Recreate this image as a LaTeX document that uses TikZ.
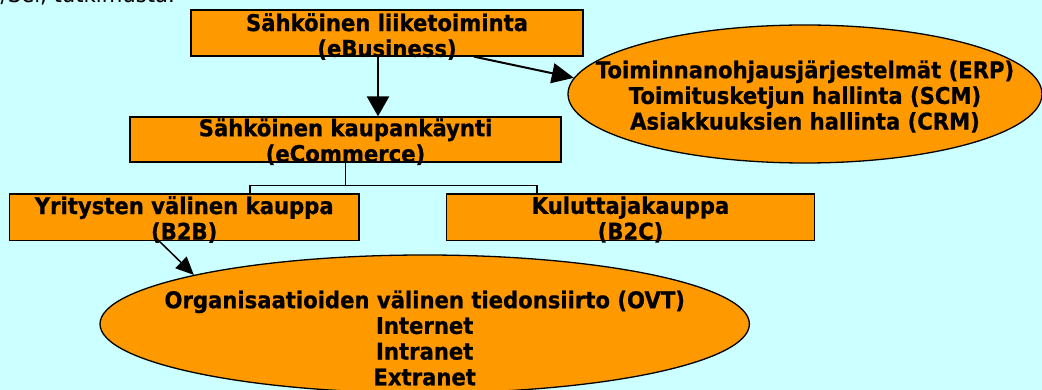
\documentclass[tikz,border=0pt]{standalone}
\usepackage{fontspec}
\setmainfont{DejaVu Sans}
\newfontfamily\diafont{DejaVu Sans}[FakeStretch=0.92]
\newfontfamily\diabold{DejaVu Sans Bold}[FakeStretch=0.92,FakeBold=0.8]
\usetikzlibrary{arrows.meta,shapes.geometric}
\definecolor{bg}{HTML}{CCFFFF}
\definecolor{org}{HTML}{FF9900}
\begin{document}
\begin{tikzpicture}[x=1pt,y=-1pt,
  box/.style={draw=black, line width=1.3pt, fill=org, rectangle, inner sep=0pt},
  oval/.style={draw=black, line width=1.3pt, fill=org, ellipse, inner sep=0pt},
  txt/.style={font=\fontsize{23}{25.7}\selectfont\diabold, align=center, inner sep=0pt},
  conn/.style={draw=black, line width=1.3pt},
  bigarrow/.style={draw=black, line width=2.5pt, -{Triangle[length=20pt,width=22pt]}},
  midarrow/.style={draw=black, line width=2pt, -{Triangle[length=22pt,width=20pt]}},
  smallarrow/.style={draw=black, line width=1.5pt, -{Triangle[length=18pt,width=16pt]}}]
\useasboundingbox (0,0) rectangle (1042,390);
\clip (0,0) rectangle (1042,390);
\fill[bg] (0,0) rectangle (1042,390);

\node[font=\fontsize{23}{25}\selectfont\diafont, anchor=base east, inner sep=0pt] (src) at (175,3) {y/Sel, tutkimusta.};

\node[box, minimum width=392pt, minimum height=46pt,
  label={[txt,yshift=-3.5pt]center:{Sähköinen liiketoiminta\\(eBusiness)}}] (ebus) at (387,33) {};
\node[box, minimum width=431pt, minimum height=45pt,
  label={[txt,yshift=-2.2pt]center:{Sähköinen kaupankäynti\\(eCommerce)}}] (ecom) at (345.5,139.5) {};
\node[oval, minimum width=474pt, minimum height=138pt,
  label={[txt,yshift=-2.5pt]center:{Toiminnanohjausjärjestelmät (ERP)\\Toimitusketjun hallinta (SCM)\\Asiakkuuksien hallinta (CRM)}}] (erp) at (805,94) {};
\node[box, minimum width=349.7pt, minimum height=46.7pt,
  label={[txt,yshift=-2.2pt]center:{Yritysten välinen kauppa\\(B2B)}}] (b2b) at (184.2,217.3) {};
\node[box, minimum width=367.6pt, minimum height=46.7pt,
  label={[txt,yshift=-2.2pt]center:{Kuluttajakauppa\\(B2C)}}] (b2c) at (630.5,217.3) {};
\node[oval, minimum width=649.4pt, minimum height=138pt,
  label={[txt,yshift=-14pt]center:{Organisaatioiden välinen tiedonsiirto (OVT)\\Internet\\Intranet\\Extranet}}] (ovt) at (424.7,324) {};

\coordinate (jl) at (250,185.7);
\coordinate (jr) at (537,185.7);
\draw[conn] (ecom.south) -- (ecom.south |- jl);
\draw[conn] (jl |- b2b.north) -- (jl) -- (jr) -- (jr |- b2c.north);

\draw[bigarrow] (ebus.south -| 378,0) -- (ecom.north -| 378,0);
\draw[midarrow] (ebus.south -| 474,0) -- (erp.176);
\draw[smallarrow] (155,237) -- (ovt.168);
\end{tikzpicture}
\end{document}
